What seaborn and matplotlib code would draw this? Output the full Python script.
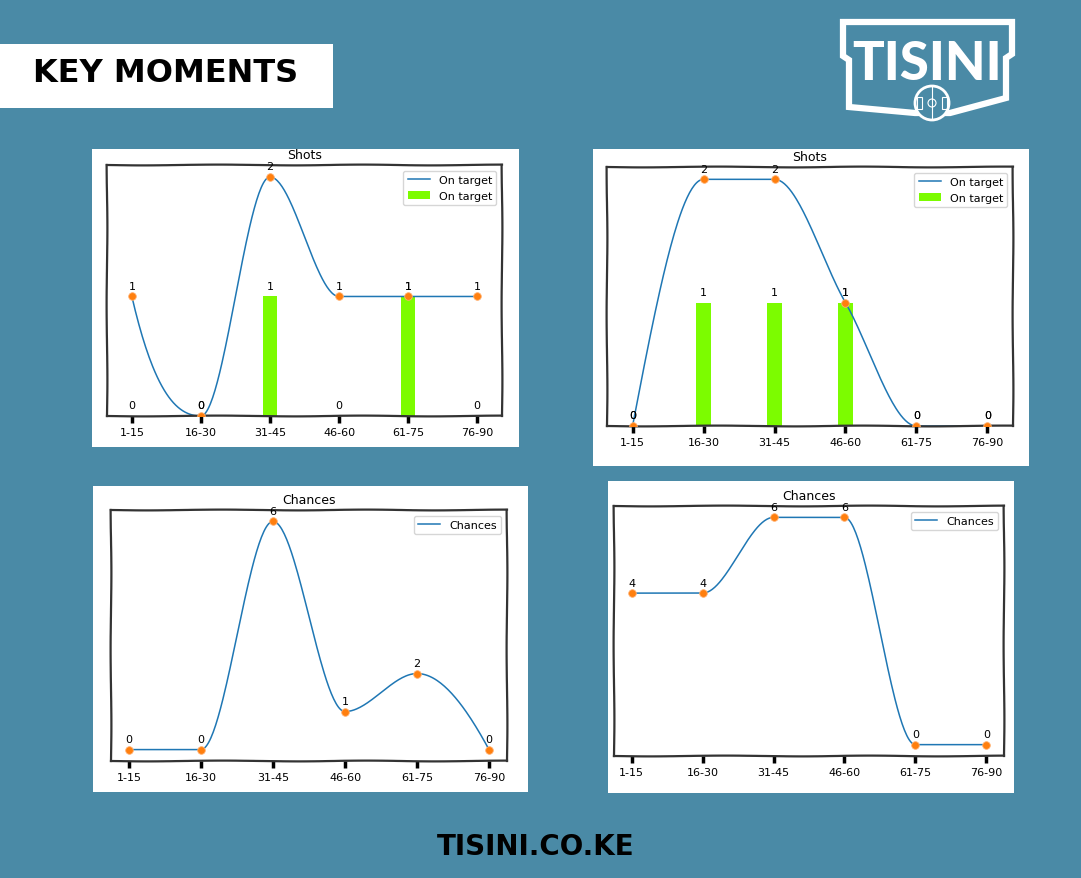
import numpy as np
import matplotlib
matplotlib.use("Agg")
import matplotlib.pyplot as plt
import seaborn as sns
from matplotlib.patches import Rectangle, Polygon, Circle

# data
periods = ['1-15', '16-30', '31-45', '46-60', '61-75', '76-90']
shots_on_target_a = [1, 0, 2, 1, 1, 1]
shots_bars_a = [0, 0, 1, 0, 1, 0]
shots_on_target_b = [0, 2, 2, 1, 0, 0]
shots_bars_b = [0, 1, 1, 1, 0, 0]
chances_a = [0, 0, 6, 1, 2, 0]
chances_b = [4, 4, 6, 6, 0, 0]

W, H = 1081, 879
BG = '#4a8aa6'
plt.rcParams['font.family'] = ['DejaVu Sans']


def pchip_curve(y, n=300):
    # smooth monotone curve through the points (same look as PchipInterpolator)
    y = np.asarray(y, dtype=float)
    x = np.arange(len(y), dtype=float)
    h = np.diff(x)
    delta = np.diff(y) / h
    d = np.zeros(len(y))
    for k in range(1, len(y) - 1):
        if delta[k - 1] * delta[k] > 0:
            w1 = 2 * h[k] + h[k - 1]
            w2 = h[k] + 2 * h[k - 1]
            d[k] = (w1 + w2) / (w1 / delta[k - 1] + w2 / delta[k])

    def edge(h0, h1, m0, m1):
        e = ((2 * h0 + h1) * m0 - h0 * m1) / (h0 + h1)
        if np.sign(e) != np.sign(m0):
            e = 0.0
        elif np.sign(m0) != np.sign(m1) and abs(e) > abs(3 * m0):
            e = 3 * m0
        return e

    d[0] = edge(h[0], h[1], delta[0], delta[1])
    d[-1] = edge(h[-1], h[-2], delta[-1], delta[-2])
    xs = np.linspace(x[0], x[-1], n)
    idx = np.clip(np.searchsorted(x, xs, side='right') - 1, 0, len(x) - 2)
    t = (xs - x[idx]) / h[idx]
    h00 = 2 * t**3 - 3 * t**2 + 1
    h10 = t**3 - 2 * t**2 + t
    h01 = -2 * t**3 + 3 * t**2
    h11 = t**3 - t**2
    ys = h00 * y[idx] + h10 * h[idx] * d[idx] + h01 * y[idx + 1] + h11 * h[idx] * d[idx + 1]
    return xs, ys


def frac(l, t, r, b):
    return [l / W, 1 - b / H, (r - l) / W, (b - t) / H]


def draw_chart(box, title, line_vals, label, bar_vals=None):
    ax = fig.add_axes(frac(*box))
    pos = np.arange(len(periods))
    if bar_vals is not None:
        ax.bar(pos, bar_vals, width=0.2, color='#7cfc00', label=label, zorder=1)
    xs, ys = pchip_curve(line_vals)
    sns.lineplot(x=xs, y=ys, ax=ax, color='#1f77b4', linewidth=1.1, legend=False, zorder=2)
    ax.get_lines()[0].set_label(label)
    sns.scatterplot(x=pos, y=line_vals, ax=ax, color='#ff7f0e', s=30,
                    edgecolor='#ffb070', linewidth=0.6, zorder=3, legend=False)
    for p, v in zip(pos, line_vals):
        ax.annotate(str(v), (p, v), xytext=(0, 4), textcoords='offset points',
                    ha='center', va='bottom', fontsize=8)
    if bar_vals is not None:
        for p, v in zip(pos, bar_vals):
            ax.annotate(str(v), (p, v), xytext=(0, 4), textcoords='offset points',
                        ha='center', va='bottom', fontsize=8)
    ax.set_title(title, fontsize=9, pad=5)
    ax.set_xticks(pos, periods)
    ax.set_yticks([])
    ax.set_xlabel('')
    ax.set_ylabel('')
    ax.tick_params(axis='x', length=5, width=2.5, labelsize=8, pad=3)
    for sp in ax.spines.values():
        sp.set_linewidth(1.6)
        sp.set_color('0.2')
        sp.set_sketch_params(0.4, 160, 2)
    ax.legend(loc='upper right', fontsize=8)
    return ax


fig = plt.figure(figsize=(W / 100, H / 100), dpi=100, facecolor=BG)

# background layer in pixel coordinates
bg = fig.add_axes([0, 0, 1, 1], zorder=0)
bg.set_xlim(0, W)
bg.set_ylim(H, 0)
bg.axis('off')

# white panels
for l, t, r, b in [(92, 150, 519, 448), (593, 150, 1029, 467),
                   (93, 487, 528, 793), (608, 482, 1014, 794)]:
    bg.add_patch(Rectangle((l, t), r - l, b - t, facecolor='white', edgecolor='none'))

# header box
bg.add_patch(Rectangle((0, 45), 333, 64, facecolor='white', edgecolor='none'))
bg.text(166, 73, 'KEY MOMENTS', fontsize=23, fontweight='bold', color='black',
        ha='center', va='center', family=['DejaVu Sans'])

# logo
logo = [(849, 108), (849, 61), (843, 57), (843, 23), (1012, 23), (1012, 55),
        (1006, 59), (1006, 99), (950, 114), (915, 114)]
bg.add_patch(Polygon(logo, closed=True, fill=False, edgecolor='white', linewidth=4.5,
                     joinstyle='miter'))
bg.text(927, 64, 'TISINI', fontsize=38, fontweight='black', color='white',
        ha='center', va='center', family=['Lato'])
bg.add_patch(Circle((932, 104), 17, facecolor=BG, edgecolor='white', linewidth=2))
bg.plot([932, 932], [88, 120], color='white', lw=0.8)
bg.add_patch(Circle((932, 104), 4, facecolor='none', edgecolor='white', linewidth=0.8))
bg.add_patch(Rectangle((917, 98), 5, 12, facecolor='none', edgecolor='white', linewidth=0.8))
bg.add_patch(Rectangle((942, 98), 5, 12, facecolor='none', edgecolor='white', linewidth=0.8))

# footer
bg.text(536, 847, 'TISINI.CO.KE', fontsize=20, fontweight='bold', color='black',
        ha='center', va='center', family=['DejaVu Sans'])

draw_chart((107, 166, 502, 417), 'Shots', shots_on_target_a, 'On target', shots_bars_a)
draw_chart((607, 168, 1013, 427), 'Shots', shots_on_target_b, 'On target', shots_bars_b)
draw_chart((111, 511, 507, 762), 'Chances', chances_a, 'Chances')
draw_chart((614, 507, 1004, 757), 'Chances', chances_b, 'Chances')

fig.savefig('out.png', dpi=100, facecolor=BG)
